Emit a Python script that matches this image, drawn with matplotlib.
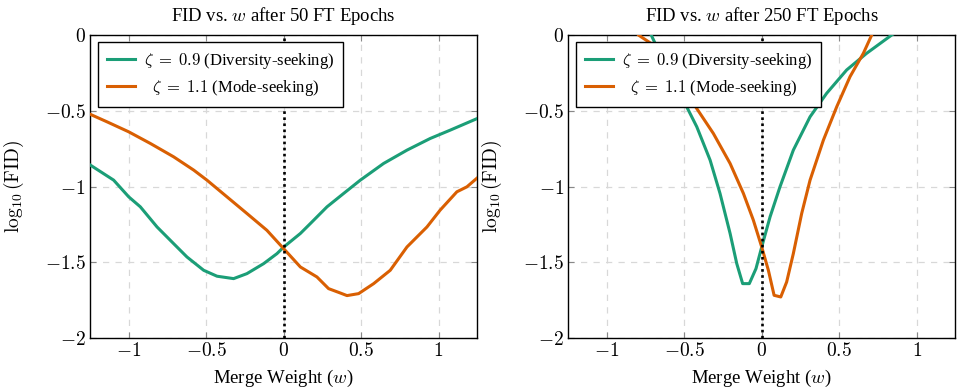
import matplotlib
matplotlib.use('Agg')

import matplotlib.pyplot as plt
import numpy as np
from matplotlib.ticker import FuncFormatter

plt.rcParams['font.family'] = ['Liberation Serif', 'DejaVu Serif']
plt.rcParams['mathtext.fontset'] = 'cm'

GREEN = '#1b9e77'
ORANGE = '#d95f02'

# left panel: 50 FT epochs
w50_div = [-1.247, -1.097, -1.0, -0.925, -0.817, -0.71, -0.624, -0.516, -0.43, -0.323,
           -0.237, -0.129, -0.043, 0.0, 0.108, 0.172, 0.28, 0.387, 0.495, 0.645,
           0.796, 0.946, 1.075, 1.25]
fid50_div = [-0.859, -0.958, -1.068, -1.134, -1.267, -1.377, -1.465, -1.553, -1.592, -1.608,
             -1.575, -1.509, -1.443, -1.40, -1.31, -1.245, -1.134, -1.046, -0.958, -0.848,
             -0.76, -0.683, -0.628, -0.551]
w50_mode = [-1.247, -1.14, -1.0, -0.86, -0.71, -0.58, -0.495, -0.366, -0.237, -0.108,
            0.0, 0.108, 0.215, 0.29, 0.366, 0.409, 0.484, 0.581, 0.688, 0.796,
            0.925, 1.01, 1.118, 1.183, 1.25]
fid50_mode = [-0.524, -0.573, -0.639, -0.716, -0.804, -0.892, -0.958, -1.068, -1.178, -1.289,
              -1.41, -1.531, -1.597, -1.674, -1.703, -1.72, -1.707, -1.641, -1.553, -1.399,
              -1.267, -1.156, -1.035, -1.002, -0.943]

# right panel: 250 FT epochs
w250_div = [-0.75, -0.688, -0.6, -0.495, -0.419, -0.333, -0.269, -0.204, -0.161, -0.123,
            -0.08, -0.037, 0.0, 0.054, 0.118, 0.204, 0.312, 0.419, 0.548, 0.677,
            0.839, 0.9]
fid250_div = [0.08, -0.055, -0.25, -0.452, -0.606, -0.826, -1.046, -1.31, -1.509, -1.641,
              -1.641, -1.542, -1.399, -1.2, -1.002, -0.76, -0.54, -0.385, -0.231, -0.121,
              0.0, 0.04]
w250_mode = [-0.85, -0.796, -0.699, -0.57, -0.441, -0.312, -0.204, -0.118, -0.054, 0.0,
             0.043, 0.08, 0.123, 0.161, 0.204, 0.258, 0.312, 0.398, 0.484, 0.57,
             0.656, 0.71, 0.75]
fid250_mode = [0.1, 0.0, -0.066, -0.25, -0.452, -0.65, -0.848, -1.046, -1.222, -1.399,
               -1.553, -1.718, -1.729, -1.63, -1.443, -1.178, -0.958, -0.694, -0.474, -0.275,
               -0.121, 0.0, 0.08]

panels = [
    ('FID vs. $w$ after 50 FT Epochs', w50_div, fid50_div, w50_mode, fid50_mode),
    ('FID vs. $w$ after 250 FT Epochs', w250_div, fid250_div, w250_mode, fid250_mode),
]


def fmt(v, pos):
    return '$%g$' % v


fig = plt.figure(figsize=(9.6, 3.91), dpi=100)
lefts = [0.0937, 0.5917]
for left, (title, wd, fd, wm, fm) in zip(lefts, panels):
    ax = fig.add_axes([left, 0.1355, 0.4035, 0.775])
    ax.plot(wd, fd, color=GREEN, lw=2.2, label=r'$\zeta\;=\;0.9$ (Diversity-seeking)', zorder=3)
    ax.plot(wm, fm, color=ORANGE, lw=2.2, label=r'$\;\;\zeta\;=\;1.1$ (Mode-seeking)', zorder=3)
    ax.axvline(0, color='black', lw=1.9, ls=(0, (1, 1.3)), zorder=4)
    ax.set_xlim(-1.25, 1.25)
    ax.set_ylim(-2, 0)
    ax.set_xticks([-1, -0.5, 0, 0.5, 1])
    ax.set_yticks([-2, -1.5, -1, -0.5, 0])
    ax.xaxis.set_major_formatter(FuncFormatter(fmt))
    ax.yaxis.set_major_formatter(FuncFormatter(fmt))
    ax.tick_params(direction='in', length=4, width=0.8, color='#888888',
                   top=True, right=True, labelsize=14)
    ax.tick_params(axis='x', pad=3)
    ax.tick_params(axis='y', pad=3)
    ax.grid(True, ls=(0, (5, 5)), color='#d8d8d8', lw=0.9)
    for sp in ax.spines.values():
        sp.set_linewidth(1.0)
    ax.set_title(title, fontsize=13.5, pad=10)
    ax.set_xlabel('Merge Weight ($w$)', fontsize=13.5)
    ax.set_ylabel(r'$\log_{10}(\mathrm{FID})$', fontsize=14)
    ax.xaxis.set_label_coords(0.5, -0.1)
    ax.xaxis.label.set_va('top')
    ax.yaxis.set_label_coords(-0.166, 0.5)
    leg = ax.legend(loc='upper left', bbox_to_anchor=(0.02, 0.977), borderaxespad=0,
                    fontsize=12, frameon=True, fancybox=False, framealpha=1,
                    edgecolor='black', handlelength=1.7, handletextpad=0.5,
                    borderpad=0.55, labelspacing=0.4)
    leg.get_frame().set_linewidth(1.0)
    leg.set_zorder(5)

fig.savefig('out.png', dpi=100)
